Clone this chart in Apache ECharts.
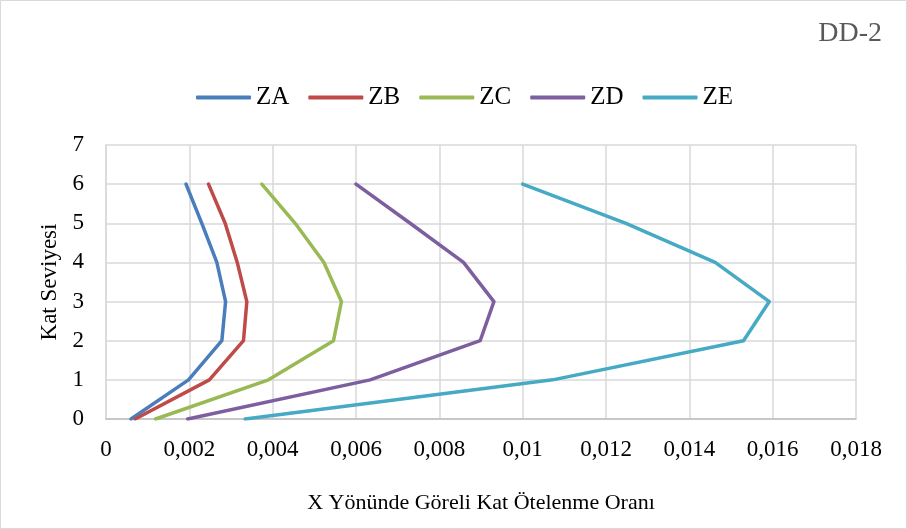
<!DOCTYPE html>
<html>
<head>
<meta charset="utf-8">
<script src="https://cdn.jsdelivr.net/npm/echarts@6/dist/echarts.min.js"></script>
<style>
html,body{margin:0;padding:0;background:#fff;}
#chart{width:907px;height:529px;}
</style>
</head>
<body>
<div id="chart"></div>
<script>
// Story levels (y) and drift ratios (x) per series
const levels = [0, 1, 2, 3, 4, 5, 6];
const seriesNames = ['ZA', 'ZB', 'ZC', 'ZD', 'ZE'];
const za = [0.0006, 0.00198, 0.00278, 0.00287, 0.00266, 0.0023, 0.00192];
const zb = [0.0007, 0.00248, 0.0033, 0.00338, 0.00315, 0.00286, 0.00246];
const zc = [0.00119, 0.0039, 0.00546, 0.00565, 0.00523, 0.00454, 0.00374];
const zd = [0.00196, 0.00634, 0.00898, 0.00931, 0.00858, 0.0073, 0.006];
const ze = [0.00334, 0.01072, 0.0153, 0.01592, 0.01462, 0.01248, 0.0100];
const xTickLabels = ['0', '0,002', '0,004', '0,006', '0,008', '0,01', '0,012', '0,014', '0,016', '0,018'];
const yTickLabels = ['0', '1', '2', '3', '4', '5', '6', '7'];
const colors = ['#4A7EBB', '#BE4B48', '#98B954', '#7D5FA0', '#46AAC5'];

const allValues = [za, zb, zc, zd, ze];
const font = 'Liberation Serif, Times New Roman, serif';

const chart = echarts.init(document.getElementById('chart'), null, {renderer: 'canvas'});
chart.setOption({
  animation: false,
  backgroundColor: '#fff',
  graphic: [{
    type: 'rect', silent: true,
    shape: {x: 0.5, y: 0.5, width: 906, height: 528},
    style: {fill: 'none', stroke: '#d9d9d9', lineWidth: 1}
  }],
  title: {
    text: 'DD-2',
    right: 20, top: 15,
    textStyle: {fontFamily: font, fontSize: 28, fontWeight: 'normal', color: '#595959'}
  },
  legend: {
    left: 191, top: 80,
    itemWidth: 55, itemHeight: 4, itemGap: 19,
    icon: 'roundRect',
    data: seriesNames,
    textStyle: {fontFamily: font, fontSize: 25, color: '#000'}
  },
  grid: {left: 106, right: 51, top: 145, bottom: 110, containLabel: false},
  xAxis: {
    type: 'value', min: 0, max: 0.018, interval: 0.002,
    name: 'X Yönünde Göreli Kat Ötelenme Oranı',
    nameLocation: 'middle', nameGap: 73,
    nameTextStyle: {fontFamily: font, fontSize: 22, color: '#000'},
    axisLine: {show: true, lineStyle: {color: '#bfbfbf', width: 1.5}},
    axisTick: {show: false},
    splitLine: {show: true, lineStyle: {color: '#d9d9d9', width: 1.5}},
    axisLabel: {
      fontFamily: font, fontSize: 23, color: '#000', margin: 19,
      formatter: v => xTickLabels[Math.round(v / 0.002)]
    }
  },
  yAxis: {
    type: 'value', min: 0, max: 7, interval: 1,
    name: 'Kat Seviyesi',
    nameLocation: 'middle', nameGap: 34,
    nameTextStyle: {fontFamily: font, fontSize: 23, color: '#000'},
    axisLine: {show: true, lineStyle: {color: '#d9d9d9', width: 1.5}},
    axisTick: {show: false},
    splitLine: {show: true, lineStyle: {color: '#d9d9d9', width: 1.5}},
    axisLabel: {
      fontFamily: font, fontSize: 23, color: '#000', margin: 22,
      formatter: v => yTickLabels[Math.round(v)]
    }
  },
  series: seriesNames.map((name, i) => ({
    name: name,
    type: 'line',
    symbol: 'none',
    color: colors[i],
    lineStyle: {width: 3.5, color: colors[i], cap: 'round', join: 'round'},
    data: levels.map((lv, k) => [allValues[i][k], lv])
  }))
});
</script>
</body>
</html>
